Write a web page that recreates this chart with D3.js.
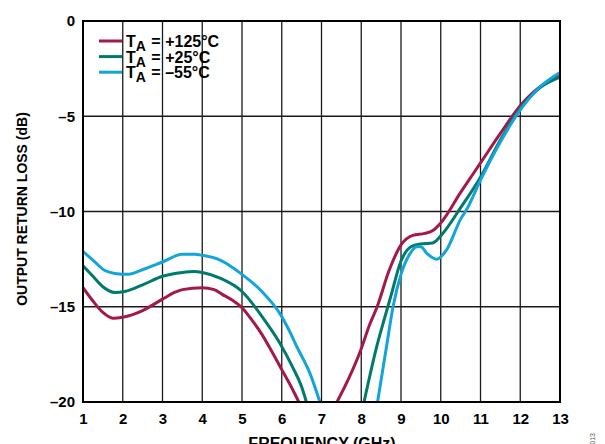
<!DOCTYPE html>
<html>
<head>
<meta charset="utf-8">
<script src="https://cdn.jsdelivr.net/npm/d3@7/dist/d3.min.js"></script>
<style>
  html, body { margin: 0; padding: 0; background: #fff; }
  svg { display: block; font-family: "Liberation Sans", Arial, Helvetica, sans-serif; font-weight: bold; }
</style>
</head>
<body>
<svg id="chart" width="605" height="444"></svg>
<script>
// Output return loss vs. frequency at three ambient temperatures.
// null marks where a trace runs below the -20 dB floor of the plot.
const freq125 = [1, 1.25, 1.5, 1.75, 2, 2.5, 3, 3.3, 3.5, 4, 4.3, 4.5, 4.75, 5, 5.25, 5.5, 5.75, 6.0, 6.25, 6.43,
                 6.9, 7.39, 7.7, 8.0, 8.2, 8.4, 8.7, 9.0, 9.3, 9.6, 9.8, 10.0, 10.5, 11.0, 11.5, 12.0, 12.5, 13.0];
const loss125 = [-14.0, -14.7, -15.3, -15.6, -15.55, -15.2, -14.6, -14.25, -14.1, -14.0, -14.1, -14.35, -14.65, -15.05, -15.7, -16.45, -17.35, -18.3, -19.25, -20,
                 null, -20, -18.7, -17.2, -16.0, -15.0, -13.1, -11.75, -11.25, -11.15, -11.0, -10.6, -9.0, -7.45, -5.9, -4.45, -3.45, -2.9];

const freq25 = [1, 1.25, 1.5, 1.8, 2.05, 2.5, 3, 3.5, 3.8, 4, 4.45, 5, 5.5, 5.95, 6.28, 6.5, 6.62,
                7.3, 8.07, 8.4, 8.6, 8.75, 9.0, 9.25, 9.5, 9.8, 10.05, 10.5, 11.0, 11.5, 12.0, 12.5, 13.0];
const loss25 = [-12.85, -13.4, -13.95, -14.25, -14.2, -13.85, -13.4, -13.2, -13.15, -13.2, -13.5, -14.2, -15.5, -16.9, -18.2, -19.2, -20,
                null, -20, -17.0, -15.5, -14.4, -12.6, -11.85, -11.7, -11.65, -11.15, -9.8, -8.2, -6.25, -4.6, -3.5, -2.95];

const freq55 = [1, 1.25, 1.55, 1.8, 2.15, 2.5, 3, 3.5, 3.8, 4, 4.45, 5, 5.5, 5.95, 6.2, 6.38, 6.71, 6.96,
                7.7, 8.41, 8.65, 8.8, 9.0, 9.23, 9.4, 9.5, 9.65, 9.9, 10.15, 10.5, 10.65, 11.0, 11.5, 12.0, 12.5, 13.0];
const loss55 = [-12.1, -12.55, -13.1, -13.25, -13.3, -13.05, -12.65, -12.25, -12.25, -12.3, -12.55, -13.3, -14.2, -15.35, -16.3, -17.1, -18.5, -20,
                null, -20, -16.9, -15.0, -13.3, -12.2, -11.85, -11.85, -12.2, -12.5, -12.0, -10.4, -9.9, -8.35, -6.35, -4.67, -3.45, -2.7];

const seriesNames = ["T_A = +125°C", "T_A = +25°C", "T_A = –55°C"];
const seriesColors = ["#A3194B", "#007A6C", "#13A4DA"];

const xTicks = [1, 2, 3, 4, 5, 6, 7, 8, 9, 10, 11, 12, 13];
const yTicks = [0, -5, -10, -15, -20];
const xTitle = "FREQUENCY (GHz)";
const yTitle = "OUTPUT RETURN LOSS (dB)";
const figureId = "10960-013";

const svg = d3.select("#chart");
const plotLeft = 83, plotRight = 560, plotTop = 21, plotBottom = 402;

const x = d3.scaleLinear().domain([1, 13]).range([plotLeft, plotRight]);
const y = d3.scaleLinear().domain([-20, 0]).range([plotBottom, plotTop]);

svg.append("defs").append("clipPath").attr("id", "plot-clip")
  .append("rect").attr("x", plotLeft).attr("y", plotTop)
  .attr("width", plotRight - plotLeft).attr("height", plotBottom - plotTop);

// grid lines
const grid = svg.append("g");
grid.selectAll("line.v").data(xTicks.slice(1, -1)).join("line")
  .attr("x1", d => x(d)).attr("x2", d => x(d))
  .attr("y1", plotTop).attr("y2", plotBottom)
  .attr("stroke", "#1a1a1a").attr("stroke-width", 1.3);
grid.selectAll("line.h").data(yTicks.slice(1, -1)).join("line")
  .attr("x1", plotLeft).attr("x2", plotRight)
  .attr("y1", d => y(d)).attr("y2", d => y(d))
  .attr("stroke", "#1a1a1a").attr("stroke-width", 1.3);

// tick labels via axes
const xAxis = svg.append("g").attr("transform", `translate(0,${plotBottom})`)
  .call(d3.axisBottom(x).tickValues(xTicks).tickSize(0).tickPadding(11).tickFormat(d3.format("d")));
const yAxis = svg.append("g").attr("transform", `translate(${plotLeft},0)`)
  .call(d3.axisLeft(y).tickValues(yTicks).tickSize(0).tickPadding(8)
    .tickFormat(d => d < 0 ? "–" + Math.abs(d) : String(d)));
[xAxis, yAxis].forEach(a => {
  a.select(".domain").remove();
  a.selectAll("text").attr("font-size", 15).attr("font-family", "Liberation Sans, Arial, sans-serif")
    .attr("font-weight", "bold").attr("fill", "#000");
});

// traces
const seriesData = [
  d3.zip(freq125, loss125),
  d3.zip(freq25, loss25),
  d3.zip(freq55, loss55)
];
const line = d3.line()
  .defined(d => d[1] !== null)
  .x(d => x(d[0])).y(d => y(d[1]))
  .curve(d3.curveMonotoneX);

svg.append("g").attr("clip-path", "url(#plot-clip)")
  .selectAll("path").data(seriesData).join("path")
  .attr("d", line)
  .attr("fill", "none")
  .attr("stroke", (d, i) => seriesColors[i])
  .attr("stroke-width", 3)
  .attr("stroke-linejoin", "round")
  .attr("stroke-linecap", "round");

// frame
svg.append("rect").attr("x", plotLeft).attr("y", plotTop)
  .attr("width", plotRight - plotLeft).attr("height", plotBottom - plotTop)
  .attr("fill", "none").attr("stroke", "#000").attr("stroke-width", 2);

// legend
const legend = svg.append("g");
seriesNames.forEach((name, i) => {
  const ly = 41 + i * 15.6;
  legend.append("line").attr("x1", 99).attr("x2", 122).attr("y1", ly).attr("y2", ly)
    .attr("stroke", seriesColors[i]).attr("stroke-width", 3);
  const parts = name.split("_A");
  const t = legend.append("text").attr("x", 126).attr("y", ly + 6).attr("font-size", 16).attr("fill", "#000");
  t.append("tspan").text(parts[0]);
  t.append("tspan").attr("font-size", 14).attr("dy", 4).text("A");
  t.append("tspan").attr("dy", -4).attr("dx", 1).text(parts[1]);
});

// axis titles
svg.append("text").attr("x", 322).attr("y", 449).attr("text-anchor", "middle")
  .attr("font-size", 16).text(xTitle);
svg.append("text").attr("transform", "translate(27,209) rotate(-90)")
  .attr("text-anchor", "middle").attr("font-size", 14).text(yTitle);

// figure number
svg.append("text").attr("transform", "translate(595,433) rotate(-90)")
  .attr("text-anchor", "end").attr("font-size", 7).attr("font-weight", "normal")
  .attr("fill", "#555").text(figureId);
</script>
</body>
</html>
